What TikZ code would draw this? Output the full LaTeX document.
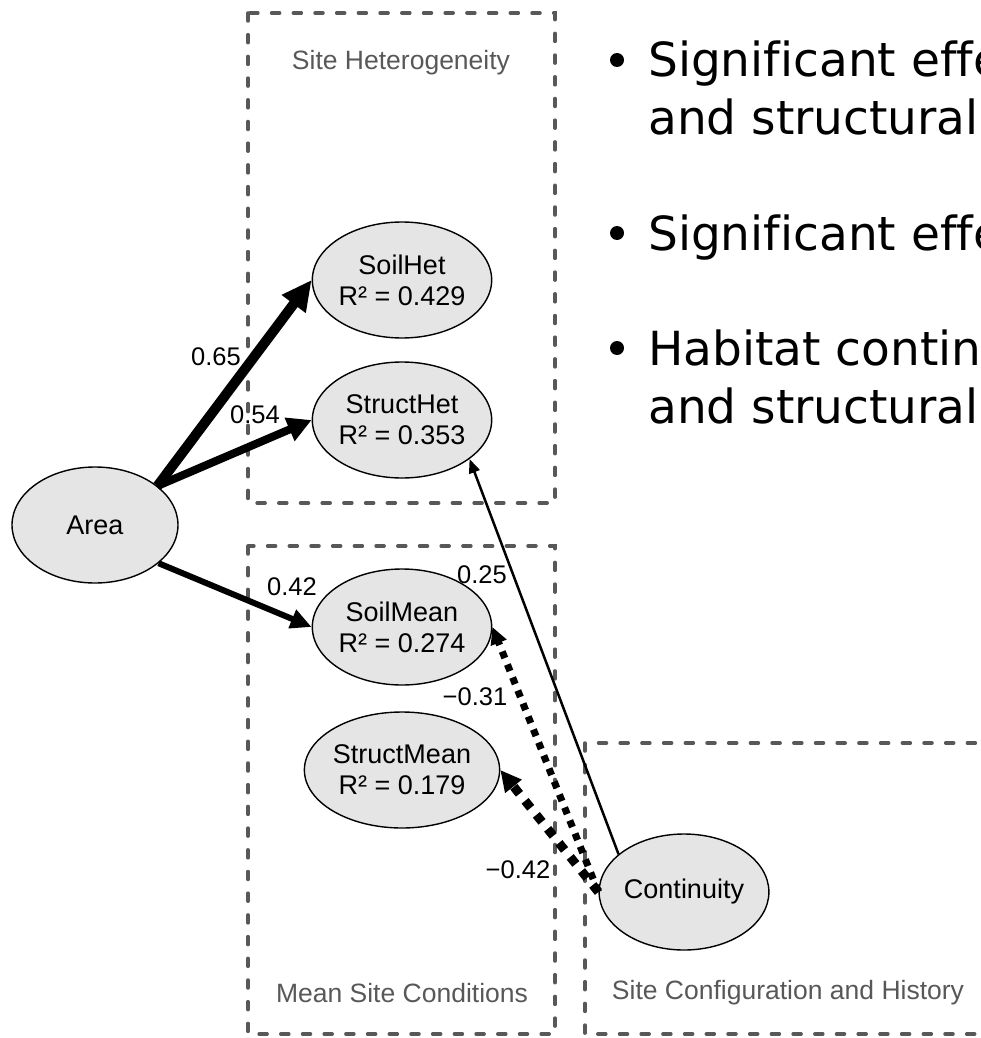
\documentclass[tikz,border=0pt]{standalone}
\usepackage{fontspec}
\setmainfont{Liberation Sans}
\newfontfamily\bulletfont[Ligatures={NoCommon}]{DejaVu Sans}
\usetikzlibrary{shapes.geometric,arrows.meta}
\definecolor{nodegray}{RGB}{229,229,229}
\definecolor{boxgray}{RGB}{88,88,88}
\tikzset{
  latent/.style={ellipse, draw=black, line width=1.4pt, fill=nodegray,
    minimum width=166pt, minimum height=116pt, inner sep=0pt, align=center,
    font=\fontsize{27}{31}\selectfont},
  groupbox/.style={draw=boxgray, line width=3.5pt, line cap=round,
    dash pattern=on 8pt off 13.7pt},
  grouplabel/.style={text=boxgray, inner sep=0pt, font=\fontsize{26.5}{30}\selectfont},
  coef/.style={inner sep=0pt, font=\fontsize{25.5}{30}\selectfont},
  bullettext/.style={anchor=base west, inner sep=0pt, font=\bulletfont\fontsize{47}{58}\selectfont},
}
\begin{document}
\begin{tikzpicture}[x=1pt, y=-1pt]
\useasboundingbox (0,0) rectangle (981,1038);
\clip (0,0) rectangle (981,1038);

% group frames
\draw[groupbox] (248,13) rectangle (555,503);
\draw[groupbox] (248,546) rectangle (555,1034);
\draw[groupbox] (585,743) rectangle (1010,1034);
\node[grouplabel] (lblhet) at (401,63) {Site Heterogeneity};
\node[grouplabel] (lblmean) at (402,993) {Mean Site Conditions};
\node[grouplabel] (lblconf) at (788,993) {Site Configuration and History};

% latent variables
\node[latent] (area) at (95,525) {Area};
\node[latent] (soilhet) at (402,280) {SoilHet\\R² = 0.429};
\node[latent] (structhet) at (402,420) {StructHet\\R² = 0.353};
\node[latent] (soilmean) at (402,627) {SoilMean\\R² = 0.274};
\node[latent] (structmean) at (402,770) {StructMean\\R² = 0.179};
\node[latent] (cont) at (684,892) {Continuity};

% paths
\draw[line width=10pt, -{Triangle[length=30pt,width=28pt]}] (area.32) -- (soilhet.west);
\draw[line width=8pt, -{Triangle[length=24pt,width=24pt]}] (area.32) -- (structhet.west);
\draw[line width=6pt, -{Triangle[length=21pt,width=19pt]}] (area.-31) -- (soilmean.west);
\draw[line width=2.5pt, -{Triangle[length=14pt,width=11pt]}] (cont.150) -- (structhet.-30);
\draw[line width=7pt, dash pattern=on 7pt off 7pt, -{Triangle[length=17pt,width=16pt]}] (cont.west) -- (soilmean.east);
\draw[line width=9pt, dash pattern=on 9pt off 9pt, -{Triangle[length=21pt,width=20pt]}] (cont.west) -- (structmean.east);

% coefficients
\node[coef] (c1) at (216,357) {0.65};
\node[coef] (c2) at (255,415) {0.54};
\node[coef] (c3) at (292,587) {0.42};
\node[coef] (c4) at (482,575) {0.25};
\node[coef] (c5) at (475,697) {−0.31};
\node[coef] (c6) at (518,870) {−0.42};

% bullet list
\fill (617,60) circle (7pt);
\fill (617,233) circle (7pt);
\fill (617,348) circle (7pt);
\node[bullettext] (b1a) at (648,77) {Significant effe};
\node[bullettext] (b1b) at (648,135) {and structural};
\node[bullettext] (b2a) at (648,250) {Significant effe};
\node[bullettext] (b3a) at (648,365) {Habitat continu};
\node[bullettext] (b3b) at (648,423) {and structural};
\end{tikzpicture}
\end{document}
